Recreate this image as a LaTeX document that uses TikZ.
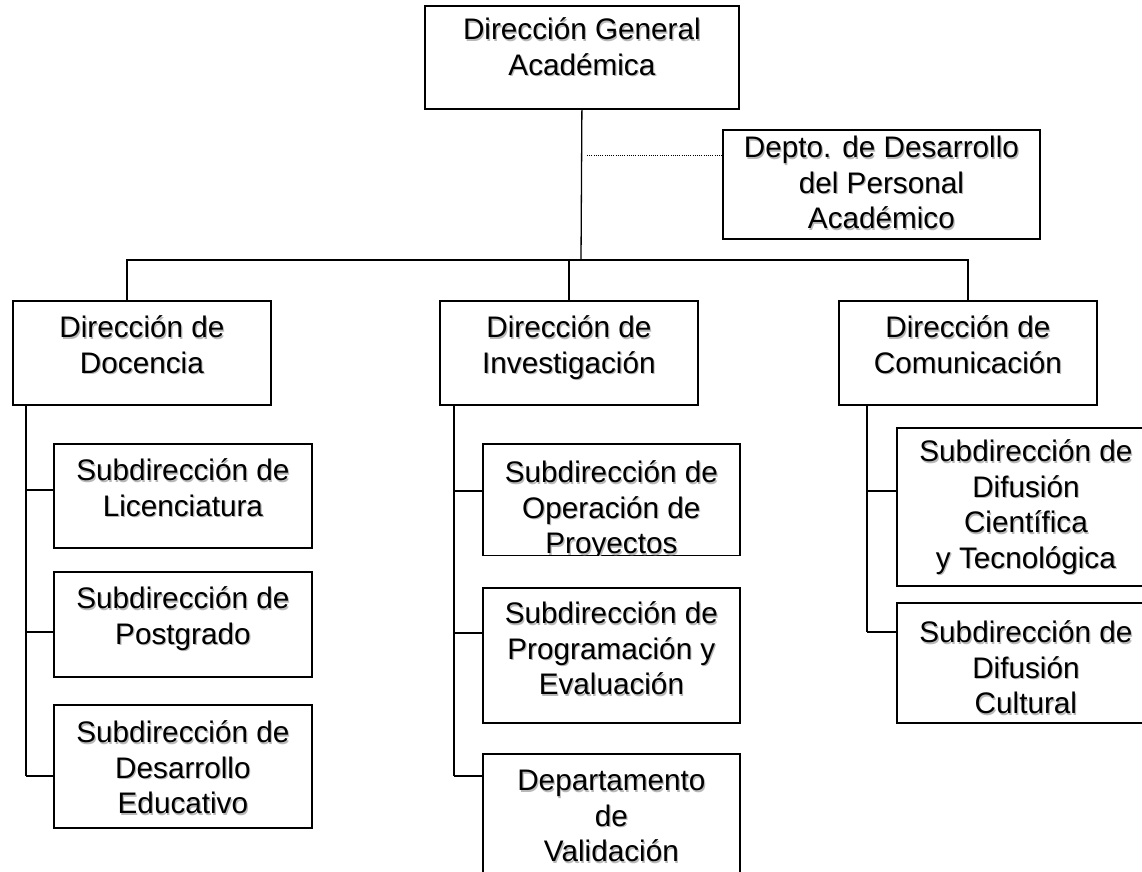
\documentclass[tikz,border=0pt]{standalone}
\usepackage{fontspec}
\setmainfont{Liberation Sans}
\usepackage{tikz}

\newcommand{\orgpar}[4]{\parbox[c][#2][t]{#1}{\centering\rule{0pt}{#3}#4}}
\newcommand{\orgtext}[4]{%
  \rlap{\kern1.2pt\raisebox{-1.2pt}[0pt][0pt]{\color{black!28}\orgpar{#1}{#2}{#3}{#4}}}%
  \orgpar{#1}{#2}{#3}{#4}}

\begin{document}
\begin{tikzpicture}[x=1pt,y=-1pt,
    orgbox/.style={draw, line width=1.8pt, inner sep=0pt, anchor=north west,
      font=\fontsize{29.7}{35.5}\selectfont},
    conn/.style={line width=1.3pt},
    dotline/.style={line width=0.9pt, dash pattern=on 1pt off 1.2pt}]
  \useasboundingbox (0,0) rectangle (1142,871);
  \clip (0,0) rectangle (1142,871);

  % top levels
  \node[orgbox] (dga) at (424,5) {\orgtext{314pt}{103pt}{34pt}{Dirección General\\Académica}};
  \node[orgbox] (dpa) at (722,129) {\orgtext{317pt}{109pt}{28pt}{Depto. de Desarrollo\\del Personal\\Académico}};
  \node[orgbox] (doc) at (12,300) {\orgtext{258pt}{104pt}{37pt}{Dirección de\\Docencia}};
  \node[orgbox] (inv) at (439,300) {\orgtext{258pt}{104pt}{37pt}{Dirección de\\Investigación}};
  \node[orgbox] (com) at (838,300) {\orgtext{258pt}{104pt}{37pt}{Dirección de\\Comunicación}};

  % docencia
  \node[orgbox] (lic) at (53,443) {\orgtext{258pt}{104pt}{37pt}{Subdirección de\\Licenciatura}};
  \node[orgbox] (pos) at (53,571) {\orgtext{258pt}{105pt}{37pt}{Subdirección de\\Postgrado}};
  \node[orgbox] (des) at (53,704) {\orgtext{258pt}{123pt}{38pt}{Subdirección de\\Desarrollo\\Educativo}};

  % investigacion
  \begin{scope}
    \clip (470,430) rectangle (750,555.5);
    \node[orgbox] (opr) at (482,443) {\orgtext{257pt}{112pt}{39pt}{Subdirección de\\Operación de\\Proyectos}};
  \end{scope}
  \node[orgbox] (prg) at (482,587) {\orgtext{257pt}{135pt}{36pt}{Subdirección de\\Programación y\\Evaluación}};
  \node[orgbox] (val) at (482,753) {\orgtext{257pt}{160pt}{37pt}{Departamento\\de\\Validación}};

  % comunicacion
  \node[orgbox] (cie) at (896,427) {\orgtext{258pt}{158pt}{34pt}{Subdirección de\\Difusión\\Científica\\y Tecnológica}};
  \node[orgbox] (cul) at (896,602) {\orgtext{258pt}{120pt}{40pt}{Subdirección de\\Difusión\\Cultural}};

  % lines
  \coordinate (bar) at (581,260);
  \draw[conn] (dga.south) -- (bar);
  \draw[conn] ([xshift=-15pt]doc.north) |- (bar);
  \draw[conn] (com.north) |- (bar);
  \draw[conn] (inv.north) -- (inv.north |- bar);

  \coordinate (dot) at (587,155);
  \draw[dotline] (dot) -- (dot -| dpa.west);

  \coordinate (l1) at (26,490);
  \coordinate (l2) at (26,632);
  \coordinate (l3) at (26,776);
  \coordinate (m1) at (454,491);
  \coordinate (m2) at (454,633);
  \coordinate (m3) at (454,776);
  \coordinate (r1) at (867,491);
  \coordinate (r2) at (867,632);

  \draw[conn] (doc.south -| l1) -- (l3);
  \draw[conn] (inv.south -| m1) -- (m3);
  \draw[conn] (com.south -| r1) -- (r2);
  \foreach \c/\n in {l1/lic,l2/pos,l3/des,m1/opr,m2/prg,m3/val,r1/cie,r2/cul}
    \draw[conn] (\c) -- (\c -| \n.west);

\end{tikzpicture}
\end{document}
